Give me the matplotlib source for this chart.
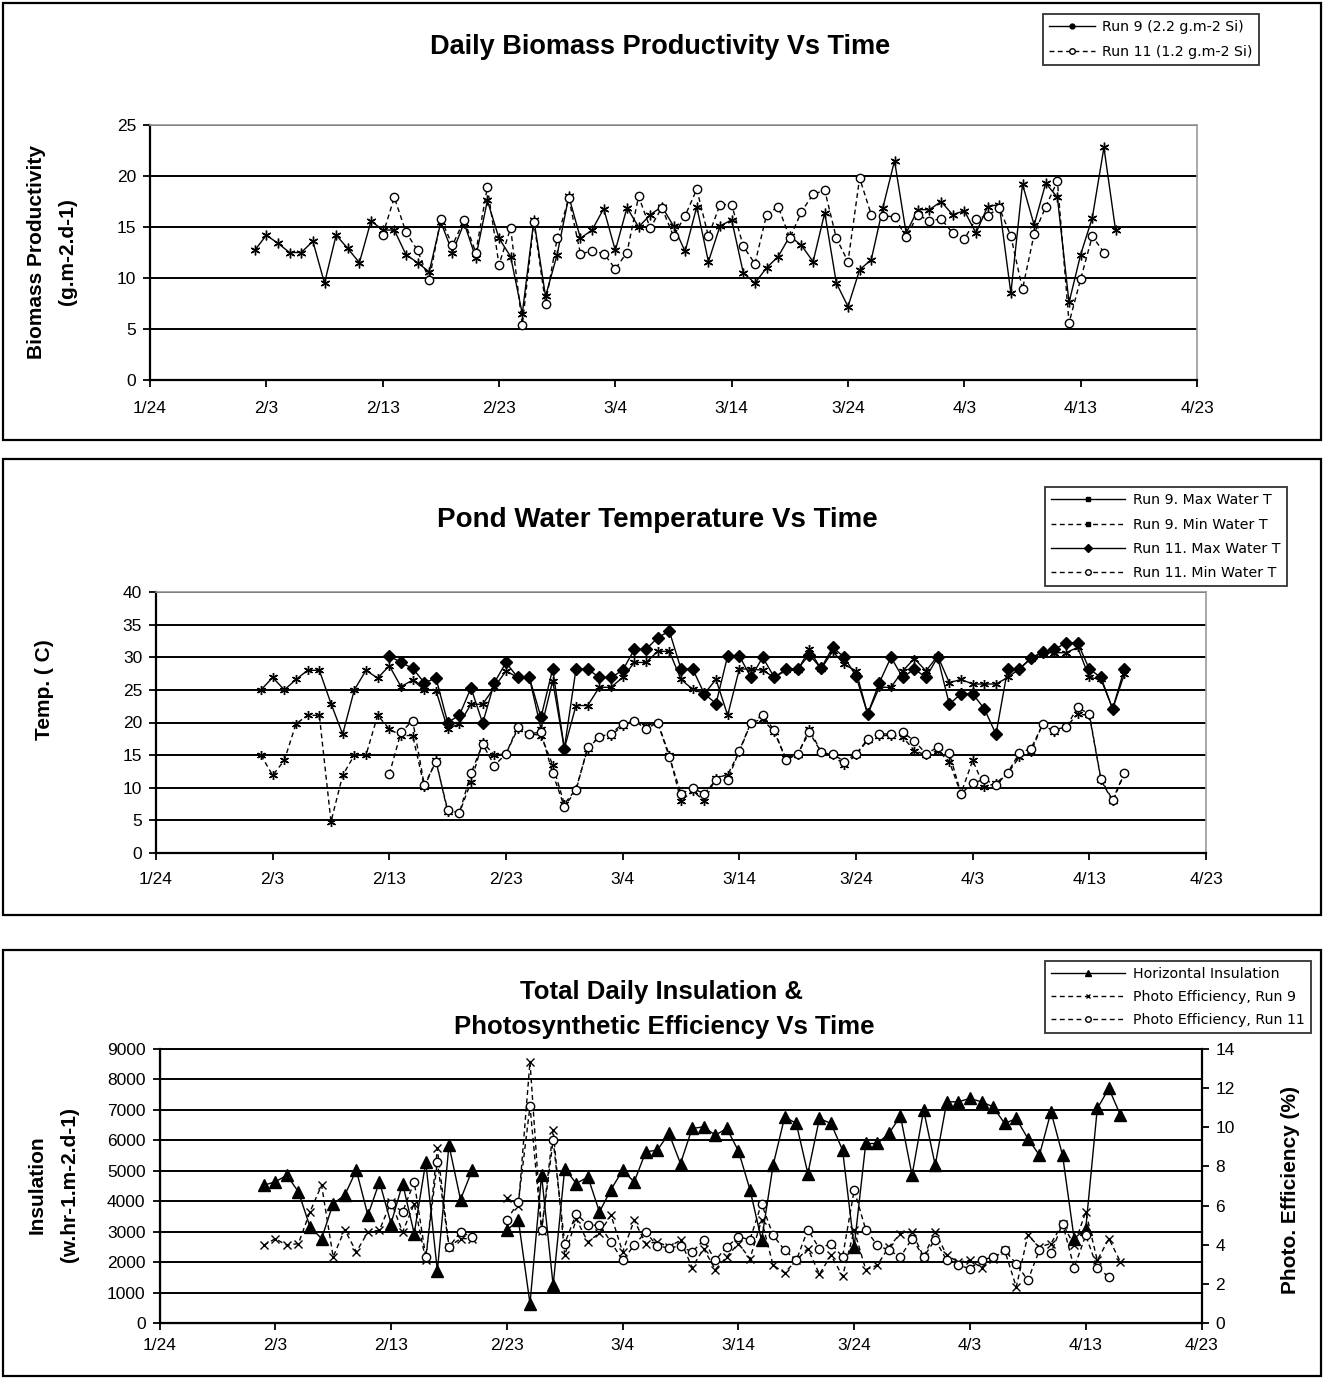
import numpy as np
import matplotlib
matplotlib.use("Agg")
import matplotlib.pyplot as plt
from matplotlib.lines import Line2D
from matplotlib.patches import Rectangle

plt.rcParams['font.family'] = ['Liberation Sans', 'DejaVu Sans']

# ---------------- data ----------------
# x positions are days after 1/24 (leap year)
tick_days = [0, 10, 20, 30, 40, 50, 60, 70, 80, 90]
tick_labels = ['1/24', '2/3', '2/13', '2/23', '3/4', '3/14', '3/24', '4/3', '4/13', '4/23']

run9_first_day = 9     # 2/2
run11_first_day = 20   # 2/13
N = None

biomass_run9 = [12.7, 14.2, 13.4, 12.5, 12.5, 13.6, 9.5, 14.2, 12.9, 11.5,
                15.6, 14.7, 14.7, 12.3, 11.5, 10.6, 15.5, 12.5, 15.4, 12.0,
                17.6, 13.9, 12.1, 6.5, 15.7, 8.2, 12.3, 18.0, 13.9, 14.7,
                16.8, 12.7, 16.9, 15.0, 16.2, 17.0, 15.1, 12.6, 17.0, 11.6,
                15.1, 15.7, 10.5, 9.5, 11.0, 12.1, 14.1, 13.2, 11.6, 16.4,
                9.5, 7.2, 10.8, 11.8, 16.9, 21.5, 14.4, 16.7, 16.7, 17.5,
                16.2, 16.6, 14.4, 17.0, 17.2, 8.5, 19.2, 15.2, 19.3, 17.9,
                7.6, 12.3, 15.9, 22.8, 14.7]
biomass_run11 = [14.2, 17.9, 14.5, 12.7, 9.8, 15.8, 13.2, 15.7, 12.5, 18.9,
                 11.3, 14.9, 5.4, 15.5, 7.5, 13.9, 17.8, 12.4, 12.6, 12.4,
                 10.9, 12.5, 18.0, 14.9, 16.9, 14.1, 16.1, 18.7, 14.1, 17.2,
                 17.2, 13.1, 11.4, 16.2, 17.0, 13.9, 16.5, 18.2, 18.6, 13.9,
                 11.6, 19.8, 16.2, 16.1, 16.0, 14.0, 16.2, 15.6, 15.8, 14.4,
                 13.8, 15.8, 16.1, 16.9, 14.1, 8.9, 14.3, 17.0, 19.5, 5.6,
                 9.9, 14.1, 12.5]

temp_max_run9 = [25.0, 26.9, 25.0, 26.6, 28.0, 28.0, 22.9, 18.2, 25.0, 28.0,
                 26.8, 28.7, 25.5, 26.5, 25.0, 24.9, 19.0, 19.8, 22.8, 22.8,
                 25.4, 27.9, 26.9, 26.9, 19.0, 26.4, 16.0, 22.6, 22.6, 25.4,
                 25.4, 26.9, 29.2, 29.2, 30.9, 30.9, 26.6, 25.1, 24.4, 26.6,
                 21.1, 28.2, 28.2, 28.0, 26.9, 28.0, 28.0, 31.2, 28.2, 30.9,
                 28.9, 27.9, 21.3, 25.4, 25.4, 27.9, 29.8, 27.9, 30.2, 26.1,
                 26.6, 25.9, 25.9, 25.9, 26.9, 28.2, 29.8, 30.7, 30.7, 30.7,
                 31.5, 26.9, 26.6, 22.1, 27.4]
temp_min_run9 = [15.0, 11.9, 14.2, 19.8, 21.1, 21.1, 4.8, 11.9, 15.0, 15.0,
                 21.1, 19.0, 18.0, 18.0, 10.1, 14.2, 6.3, 6.1, 10.9, 17.0,
                 15.0, 15.2, 19.0, 18.3, 18.0, 13.5, 7.5, 9.8, 16.0, 17.8,
                 18.0, 19.5, 20.3, 19.5, 20.0, 15.0, 8.0, 9.5, 8.0, 11.5,
                 12.0, 15.5, 20.0, 20.5, 18.5, 14.5, 15.0, 19.0, 15.5, 15.0,
                 13.5, 15.0, 17.3, 18.0, 18.0, 17.8, 15.7, 15.0, 15.7, 14.0,
                 9.1, 14.2, 10.1, 10.7, 12.2, 14.7, 15.5, 19.8, 18.5, 19.3,
                 21.3, 21.1, 11.2, 7.9, 12.2]
temp_max_run11 = [30.2, 29.2, 28.3, 26.1, 26.8, 20.0, 21.1, 25.3, 19.9, 26.1,
                  29.2, 26.9, 26.9, 20.8, 28.2, 16.0, 28.2, 28.2, 26.9, 26.9,
                  28.0, 31.2, 31.2, 33.0, 34.0, 28.2, 28.2, 24.4, 22.9, 30.2,
                  30.2, 26.9, 30.0, 26.9, 28.2, 28.2, 30.4, 28.3, 31.5, 30.0,
                  27.1, 21.3, 26.1, 30.0, 26.9, 28.2, 26.9, 30.0, 22.8, 24.4,
                  24.4, 22.1, 18.2, 28.2, 28.2, 29.9, 30.8, 31.2, 32.2, 32.2,
                  28.2, 26.9, 22.1, 28.2]
temp_min_run11 = [12.1, 18.5, 20.3, 10.4, 14.0, 6.6, 6.1, 12.2, 16.7, 13.4,
                  15.2, 19.3, 18.3, 18.5, 12.2, 7.1, 9.6, 16.2, 17.8, 18.3,
                  19.8, 20.3, 19.0, 20.0, 14.7, 9.1, 9.9, 9.1, 11.2, 11.2,
                  15.7, 20.0, 21.1, 18.8, 14.2, 15.2, 18.5, 15.5, 15.2, 14.0,
                  15.2, 17.4, 18.3, 18.2, 18.5, 17.2, 15.2, 16.2, 15.3, 9.1,
                  10.7, 11.3, 10.4, 12.3, 15.3, 16.0, 19.7, 18.9, 19.3, 22.3,
                  21.3, 11.3, 8.1, 12.3]

insulation = [4526, 4636, 4855, 4307, 3156, 2773, 3923, 4197, 5019, 3540,
              4636, 3266, 4581, 2937, 5293, 1710, 5841, 4055, 5019, N,
              N, 3047, 3375, 636, 4855, 1238, 5074, 4581, 4800, 3649,
              4384, 5019, 4636, 5622, 5677, 6225, 5238, 6389, 6444, 6170,
              6389, 5655, 4384, 2718, 5184, 6773, 6553, 4910, 6718, 6553,
              5677, 2499, 5896, 5896, 6225, 6795, 4855, 6992, 5184, 7266,
              7266, 7375, 7266, 7101, 6553, 6718, 6060, 5512, 6937, 5512,
              2773, 3101, 7047, 7704, 6827]
photo_eff_run9 = [3.97, 4.31, 3.97, 4.06, 5.68, 7.04, 3.38, 4.77, 3.63, 4.65,
                  4.74, 6.19, 4.65, 6.10, 3.20, 8.92, 3.90, 4.31, 4.31, N,
                  N, 6.40, 6.00, 13.35, 4.70, 9.85, 3.46, 5.30, 4.14, 4.60,
                  5.51, 3.63, 5.25, 4.06, 4.14, 3.89, 4.23, 2.83, 3.80, 2.73,
                  3.38, 4.06, 3.29, 5.25, 2.95, 2.56, 3.21, 3.80, 2.49, 3.46,
                  2.39, 4.74, 2.73, 2.95, 3.89, 4.57, 4.65, 3.38, 4.65, 3.46,
                  3.12, 3.20, 2.83, 3.29, 3.72, 1.84, 4.48, 3.89, 4.06, 5.08,
                  3.97, 5.68, 3.20, 4.31, 3.12]
photo_eff_run11 = [6.10, 5.68, 7.21, 3.38, 8.24, 3.89, 4.65, 4.40, N, N,
                   5.25, 6.19, 11.08, 4.74, 9.34, 4.06, 5.59, 5.00, 5.00, 4.14,
                   3.20, 3.97, 4.65, 3.92, 3.85, 3.92, 3.63, 4.23, 3.20, 3.89,
                   4.40, 4.26, 6.10, 4.48, 3.72, 3.20, 4.77, 3.80, 4.06, 3.38,
                   6.79, 4.77, 3.97, 3.72, 3.38, 4.31, 3.38, 4.26, 3.20, 2.95,
                   2.78, 3.20, 3.38, 3.72, 3.03, 2.18, 3.72, 3.58, 5.08, 2.83,
                   4.48, 2.83, 2.35]


def arr(v):
    return np.array([np.nan if x is None else x for x in v], dtype=float)


def days_for(first, values):
    return np.arange(first, first + len(values))


# ---------------- figure ----------------
W, H = 1325, 1379
fig = plt.figure(figsize=(W / 100, H / 100), dpi=100)


def fx(px):
    return px / W


def fy(py):
    return 1 - py / H


def add_axes(x0, x1, ytop, ybot):
    return fig.add_axes([fx(x0), fy(ybot), fx(x1) - fx(x0), (ybot - ytop) / H])


def style(ax, ylim, yticks, xpad, top_gray=True):
    ax.set_xlim(0, 90)
    ax.set_ylim(*ylim)
    ax.set_xticks(tick_days)
    ax.set_xticklabels(tick_labels)
    ax.set_yticks(yticks)
    ax.yaxis.grid(True, color='black', lw=1.4)
    ax.set_axisbelow(True)
    ax.tick_params(axis='both', direction='out', length=5, width=1.3,
                   labelsize=12.5, colors='black')
    ax.tick_params(axis='y', pad=5)
    ax.tick_params(axis='x', pad=xpad)
    for s in ['left', 'bottom']:
        ax.spines[s].set_color('black')
        ax.spines[s].set_linewidth(1.6)
    for s in ['top', 'right']:
        ax.spines[s].set_color('#9a9a9a' if top_gray else 'black')
        ax.spines[s].set_linewidth(1.2)


dash = (0, (3.5, 2.5))
leg_font = {'family': 'DejaVu Sans', 'size': 10.2}


def legend(handles, labels, x, y, hl, ls):
    lg = fig.legend(handles, labels, loc='upper left', bbox_to_anchor=(fx(x), fy(y)),
                    prop=leg_font, frameon=True, fancybox=False, edgecolor='black',
                    handlelength=hl, borderpad=0.45, labelspacing=ls,
                    handletextpad=0.55, borderaxespad=0)
    lg.get_frame().set_linewidth(1.3)
    return lg


# panel frames
for (y0, y1) in [(3, 440), (459, 915), (950, 1376)]:
    fig.patches.append(Rectangle((fx(3), fy(y1)), fx(1321) - fx(3), (y1 - y0) / H,
                                 transform=fig.transFigure, fill=False,
                                 edgecolor='black', lw=1.6))

# ---------- Panel 1 ----------
ax1 = add_axes(150, 1197, 125, 380)
style(ax1, (0, 25), [0, 5, 10, 15, 20, 25], xpad=10)
ax1.plot(days_for(run9_first_day, biomass_run9), arr(biomass_run9), color='black',
         lw=1.0, marker=(6, 2, 0), ms=7, mew=1.0, zorder=3)
ax1.plot(days_for(run11_first_day, biomass_run11), arr(biomass_run11), color='black',
         lw=1.0, ls=dash, marker='o', ms=6, mfc='white', mec='black', mew=1.0, zorder=4)
fig.text(fx(660), fy(47), 'Daily Biomass Productivity Vs Time', ha='center', va='center',
         fontsize=19.5, fontweight='bold')
fig.text(fx(37), fy(252), 'Biomass Productivity', rotation=90, ha='center', va='center',
         fontsize=15, fontweight='bold')
fig.text(fx(67), fy(252), '(g.m-2.d-1)', rotation=90, ha='center', va='center',
         fontsize=15, fontweight='bold')
h1 = [Line2D([], [], color='black', lw=1, marker='o', ms=3.5),
      Line2D([], [], color='black', lw=1, ls=dash, marker='o', ms=4, mfc='white')]
legend(h1, ['Run 9 (2.2 g.m-2 Si)', 'Run 11 (1.2 g.m-2 Si)'], 1043, 14, 3.2, 0.75)

# ---------- Panel 2 ----------
ax2 = add_axes(156, 1206, 592, 853)
style(ax2, (0, 40), list(range(0, 45, 5)), xpad=9)
d9 = days_for(run9_first_day, temp_max_run9)
d11 = days_for(run11_first_day, temp_max_run11)
ax2.plot(d9, arr(temp_max_run9), color='black', lw=1.0, marker=(6, 2, 0), ms=6.5, mew=1.0, zorder=3)
ax2.plot(d9, arr(temp_min_run9), color='black', lw=1.0, ls=dash, marker=(6, 2, 0), ms=6.5, mew=1.0, zorder=3)
ax2.plot(d11, arr(temp_max_run11), color='black', lw=1.0, marker='D', ms=6.5, zorder=4)
ax2.plot(d11, arr(temp_min_run11), color='black', lw=1.0, ls=dash, marker='o', ms=6,
         mfc='white', mec='black', mew=1.0, zorder=4)
fig.text(fx(657), fy(520), 'Pond Water Temperature Vs Time', ha='center', va='center',
         fontsize=20, fontweight='bold')
fig.text(fx(45), fy(690), 'Temp. ( C)', rotation=90, ha='center', va='center',
         fontsize=15, fontweight='bold')
h2 = [Line2D([], [], color='black', lw=1, marker='s', ms=3.5),
      Line2D([], [], color='black', lw=1, ls=dash, marker='s', ms=3.5),
      Line2D([], [], color='black', lw=1, marker='D', ms=4),
      Line2D([], [], color='black', lw=1, ls=dash, marker='o', ms=4, mfc='white')]
legend(h2, ['Run 9. Max Water T', 'Run 9. Min Water T', 'Run 11. Max Water T',
            'Run 11. Min Water T'], 1045, 487, 5.2, 0.72)

# ---------- Panel 3 ----------
ax3 = add_axes(159.5, 1201.5, 1049, 1323)
style(ax3, (0, 9000), list(range(0, 10000, 1000)), xpad=6, top_gray=False)
ax3b = ax3.twinx()
ax3b.set_ylim(0, 14)
ax3b.set_yticks(list(range(0, 16, 2)))
ax3b.tick_params(axis='y', direction='out', length=5, width=1.3, labelsize=12.5, pad=5)
ax3b.spines['right'].set_color('black')
ax3b.spines['right'].set_linewidth(1.6)
ax3b.spines['top'].set_color('black')
ax3b.spines['top'].set_linewidth(1.2)
di = days_for(run9_first_day, insulation)
ax3.plot(di, arr(insulation), color='black', lw=1.0, marker='^', ms=8, zorder=4)
ax3b.plot(days_for(run9_first_day, photo_eff_run9), arr(photo_eff_run9), color='black',
          lw=1.0, ls=dash, marker='x', ms=6, mew=1.0, zorder=3)
ax3b.plot(days_for(run11_first_day, photo_eff_run11), arr(photo_eff_run11), color='black',
          lw=1.0, ls=dash, marker='o', ms=6, mfc='white', mec='black', mew=1.0, zorder=3)
fig.text(fx(662), fy(992), 'Total Daily Insulation &', ha='center', va='center',
         fontsize=18.5, fontweight='bold')
fig.text(fx(664), fy(1027), 'Photosynthetic Efficiency Vs Time', ha='center', va='center',
         fontsize=18.5, fontweight='bold')
fig.text(fx(37), fy(1185), 'Insulation', rotation=90, ha='center', va='center',
         fontsize=15, fontweight='bold')
fig.text(fx(69), fy(1185), '(w.hr-1.m-2.d-1)', rotation=90, ha='center', va='center',
         fontsize=15, fontweight='bold')
fig.text(fx(1290), fy(1190), 'Photo. Efficiency (%)', rotation=90, ha='center', va='center',
         fontsize=15, fontweight='bold')
h3 = [Line2D([], [], color='black', lw=1, marker='^', ms=5),
      Line2D([], [], color='black', lw=1, ls=dash, marker='x', ms=3.5),
      Line2D([], [], color='black', lw=1, ls=dash, marker='o', ms=4, mfc='white')]
legend(h3, ['Horizontal Insulation', 'Photo Efficiency, Run 9', 'Photo Efficiency, Run 11'],
       1045, 961, 5.2, 0.62)

fig.savefig('out.png', dpi=100)
